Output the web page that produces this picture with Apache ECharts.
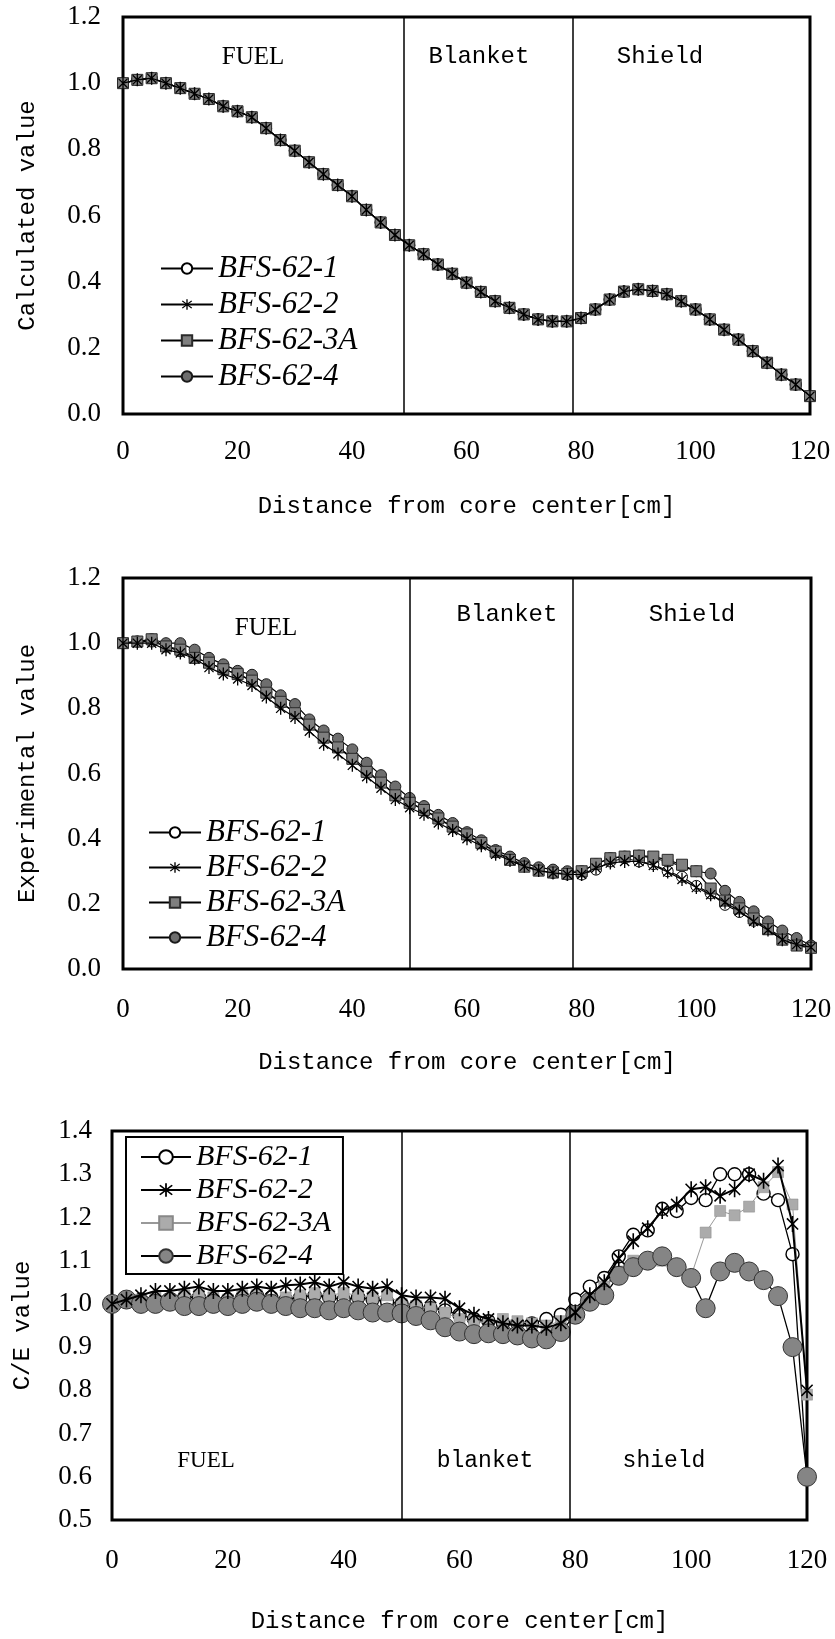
<!DOCTYPE html>
<html>
<head>
<meta charset="utf-8">
<title>BFS-62 radial distributions</title>
<script src="https://cdn.jsdelivr.net/npm/echarts@6/dist/echarts.min.js"></script>
<style>
  html, body { margin: 0; padding: 0; background: #fff; }
  #page { position: relative; width: 835px; height: 1639px; }
  .panel { position: absolute; left: 0; width: 835px; }
</style>
</head>
<body>
<div id="page">
  <div id="calc" class="panel" style="top:0;height:540px"></div>
  <div id="expt" class="panel" style="top:540px;height:560px"></div>
  <div id="ce" class="panel" style="top:1100px;height:539px"></div>
</div>
<script>
// measurement positions [cm]
const distance = [0, 2.5, 5, 7.5, 10, 12.5, 15, 17.5, 20, 22.5, 25, 27.5, 30, 32.5, 35, 37.5,
  40, 42.5, 45, 47.5, 50, 52.5, 55, 57.5, 60, 62.5, 65, 67.5, 70, 72.5, 75, 77.5,
  80, 82.5, 85, 87.5, 90, 92.5, 95, 97.5, 100, 102.5, 105, 107.5, 110, 112.5, 115, 117.5, 120];

const seriesNames = ['BFS-62-1', 'BFS-62-2', 'BFS-62-3A', 'BFS-62-4'];

// calculated values: the four cores lie on top of each other
const calcValue = [1.0, 1.01, 1.015, 1.0, 0.985, 0.968, 0.952, 0.93, 0.915, 0.897, 0.864, 0.828,
  0.796, 0.761, 0.725, 0.692, 0.658, 0.617, 0.579, 0.541, 0.51, 0.483, 0.452, 0.424, 0.397,
  0.369, 0.341, 0.321, 0.301, 0.286, 0.28, 0.28, 0.29, 0.316, 0.346, 0.37, 0.377, 0.372,
  0.362, 0.341, 0.316, 0.286, 0.255, 0.225, 0.19, 0.155, 0.119, 0.089, 0.054];

// experimental values
const exp1 = [1.0, 1.005, 1.005, 0.99, 0.975, 0.955, 0.94, 0.92, 0.905, 0.885, 0.85, 0.815,
  0.79, 0.75, 0.715, 0.68, 0.65, 0.61, 0.572, 0.537, 0.51, 0.49, 0.462, 0.435, 0.41, 0.385,
  0.358, 0.338, 0.318, 0.303, 0.295, 0.29, 0.29, 0.305, 0.33, 0.34, 0.33, 0.322, 0.3, 0.283,
  0.255, 0.232, 0.197, 0.175, 0.148, 0.124, 0.097, 0.08, 0.07];
const exp2 = [1.0, 1.0, 1.0, 0.98, 0.97, 0.952, 0.925, 0.905, 0.89, 0.87, 0.835, 0.8, 0.772,
  0.73, 0.69, 0.66, 0.625, 0.59, 0.555, 0.52, 0.495, 0.475, 0.448, 0.425, 0.4, 0.378, 0.352,
  0.333, 0.315, 0.302, 0.295, 0.29, 0.29, 0.31, 0.325, 0.33, 0.33, 0.318, 0.298, 0.275, 0.25,
  0.228, 0.205, 0.178, 0.146, 0.12, 0.09, 0.075, 0.067];
const exp3A = [1.0, 1.005, 1.012, 0.99, 0.98, 0.955, 0.94, 0.92, 0.905, 0.885, 0.848, 0.82,
  0.785, 0.75, 0.71, 0.68, 0.645, 0.605, 0.572, 0.533, 0.51, 0.488, 0.462, 0.437, 0.413,
  0.387, 0.36, 0.335, 0.314, 0.302, 0.296, 0.292, 0.3, 0.323, 0.34, 0.345, 0.348, 0.345,
  0.335, 0.32, 0.3, 0.247, 0.21, 0.186, 0.155, 0.122, 0.09, 0.072, 0.065];
const exp4 = [1.0, 1.005, 1.012, 1.0, 1.0, 0.98, 0.955, 0.935, 0.915, 0.903, 0.874, 0.84,
  0.813, 0.766, 0.732, 0.707, 0.674, 0.633, 0.595, 0.56, 0.525, 0.5, 0.473, 0.448, 0.42,
  0.395, 0.365, 0.345, 0.325, 0.312, 0.305, 0.3, 0.3, 0.322, 0.34, 0.345, 0.348, 0.34, 0.33,
  0.315, 0.3, 0.293, 0.24, 0.206, 0.177, 0.146, 0.118, 0.095, 0.072];

// C/E values
const ce1 = [1.0, 1.005, 1.01, 1.01, 1.01, 1.015, 1.015, 1.01, 1.01, 1.015, 1.02, 1.015, 1.01,
  1.015, 1.02, 1.015, 1.01, 1.015, 1.01, 1.005, 1.0, 0.995, 0.99, 0.985, 0.975, 0.965, 0.96,
  0.955, 0.955, 0.955, 0.965, 0.975, 1.01, 1.04, 1.06, 1.11, 1.16, 1.17, 1.22, 1.215, 1.245,
  1.24, 1.3, 1.3, 1.3, 1.255, 1.24, 1.115, 0.6];
const ce2 = [1.0, 1.01, 1.02, 1.03, 1.03, 1.035, 1.04, 1.03, 1.03, 1.035, 1.04, 1.035, 1.043,
  1.045, 1.05, 1.04, 1.05, 1.04, 1.035, 1.04, 1.02, 1.015, 1.015, 1.012, 0.99, 0.975, 0.965,
  0.955, 0.95, 0.95, 0.945, 0.955, 0.98, 1.02, 1.05, 1.105, 1.145, 1.175, 1.215, 1.23, 1.265,
  1.27, 1.25, 1.265, 1.3, 1.285, 1.32, 1.185, 0.8];
const ce3A = [1.0, 1.005, 1.01, 1.015, 1.01, 1.02, 1.02, 1.015, 1.01, 1.02, 1.02, 1.01, 1.015,
  1.02, 1.025, 1.02, 1.025, 1.02, 1.015, 1.02, 1.0, 0.995, 0.99, 0.98, 0.965, 0.96, 0.955,
  0.965, 0.96, 0.955, 0.95, 0.96, 0.975, 1.0, 1.04, 1.075, 1.1, 1.105, 1.1, 1.085, 1.065,
  1.165, 1.215, 1.205, 1.225, 1.27, 1.305, 1.23, 0.79];
const ce4 = [1.0, 1.01, 1.0, 1.0, 1.005, 0.995, 0.995, 1.0, 0.995, 1.0, 1.005, 1.0, 0.995,
  0.99, 0.99, 0.985, 0.99, 0.985, 0.98, 0.98, 0.978, 0.972, 0.962, 0.946, 0.936, 0.93, 0.932,
  0.93, 0.927, 0.92, 0.918, 0.935, 0.975, 1.005, 1.02, 1.065, 1.085, 1.1, 1.11, 1.085, 1.06,
  0.99, 1.075, 1.095, 1.075, 1.055, 1.018, 0.9, 0.6];

// zone boundaries [cm] in each panel
const calcZones = [49, 78.5];
const exptZones = [50, 78.5];
const ceZones = [50, 79];

const MONO = '"Liberation Mono", "DejaVu Sans Mono", monospace';
const SERIF = '"Liberation Serif", "DejaVu Serif", serif';
// six-armed asterisk marker
const STAR = 'path://M2.3,3.7L16.3,17.7L17.7,16.3L3.7,2.3Z' +
  'M16.3,2.3L2.3,16.3L3.7,17.7L17.7,3.7ZM9,0L9,20L11,20L11,0Z';

function pairs(ys) {
  return distance.map((x, i) => [x, ys[i]]);
}

function lineSeries(name, values, look) {
  return {
    name: name,
    type: 'line',
    data: pairs(values),
    symbol: look.symbol,
    symbolSize: look.size,
    symbolKeepAspect: true,
    showAllSymbol: true,
    z: look.z,
    itemStyle: { color: look.fill, borderColor: look.stroke, borderWidth: look.strokeWidth, opacity: 1 },
    lineStyle: { color: look.line, width: look.lineWidth },
    emphasis: { disabled: true }
  };
}

function zoneText(x, y, text, font) {
  return {
    type: 'text', x: x, y: y, silent: true,
    style: { text: text, font: font, fill: '#000', align: 'center', verticalAlign: 'middle',
      textAlign: 'center', textVerticalAlign: 'middle' }
  };
}

function makeOption(cfg) {
  const series = cfg.values.map((vals, i) => lineSeries(seriesNames[i], vals, cfg.looks[i]));
  series[0].markLine = {
    silent: true, symbol: 'none', animation: false,
    label: { show: false },
    lineStyle: { color: '#000', width: 1.5, type: 'solid' },
    data: cfg.zones.map(v => ({ xAxis: v }))
  };
  return {
    animation: false,
    backgroundColor: '#fff',
    grid: Object.assign({ show: true, borderColor: '#000', borderWidth: 3, backgroundColor: 'transparent' }, cfg.grid),
    xAxis: {
      type: 'value', min: 0, max: 120, interval: 20,
      name: 'Distance from core center[cm]', nameLocation: 'middle', nameGap: cfg.xNameGap,
      nameTextStyle: { fontFamily: MONO, fontSize: 24, color: '#000' },
      axisLine: { show: false }, axisTick: { show: false }, splitLine: { show: false },
      axisLabel: { fontFamily: SERIF, fontSize: 27, color: '#000', margin: cfg.xLabelMargin }
    },
    yAxis: {
      type: 'value', min: cfg.yMin, max: cfg.yMax, interval: cfg.yStep,
      name: cfg.yName, nameLocation: 'middle', nameGap: cfg.yNameGap,
      nameTextStyle: { fontFamily: MONO, fontSize: 24, color: '#000' },
      axisLine: { show: false }, axisTick: { show: false }, splitLine: { show: false },
      axisLabel: { fontFamily: SERIF, fontSize: 27, color: '#000', margin: cfg.yLabelMargin,
        formatter: v => v.toFixed(1) }
    },
    legend: Object.assign({
      data: seriesNames, orient: 'vertical', selectedMode: false,
      textStyle: { fontFamily: SERIF, fontStyle: 'italic', fontSize: cfg.legendFont, color: '#000', lineHeight: 30 }
    }, cfg.legend),
    graphic: cfg.labels,
    series: series
  };
}

const smallLooks = [
  { symbol: 'circle', size: 11, fill: '#fff', stroke: '#000', strokeWidth: 1, line: '#000', lineWidth: 1.2, z: 2 },
  { symbol: STAR, size: 13, fill: '#000', stroke: '#000', strokeWidth: 0, line: '#000', lineWidth: 1.2, z: 4 },
  { symbol: 'rect', size: 11, fill: '#7f7f7f', stroke: '#2a2a2a', strokeWidth: 1, line: '#000', lineWidth: 1.2, z: 3 },
  { symbol: 'circle', size: 11, fill: '#6e6e6e', stroke: '#1a1a1a', strokeWidth: 1, line: '#000', lineWidth: 1.2, z: 2 }
];

// big grey circles sit in front of the open circles in the C/E panel
const ceLooks = [
  { symbol: 'circle', size: 13, fill: '#fff', stroke: '#000', strokeWidth: 1.4, line: '#000', lineWidth: 1.3, z: 2 },
  { symbol: STAR, size: 16, fill: '#000', stroke: '#000', strokeWidth: 0, line: '#000', lineWidth: 2, z: 4 },
  { symbol: 'rect', size: 11, fill: '#ababab', stroke: '#888', strokeWidth: 0.5, line: '#999', lineWidth: 1, z: 3 },
  { symbol: 'circle', size: 19, fill: '#858585', stroke: '#333', strokeWidth: 1, line: '#000', lineWidth: 1.3, z: 3 }
];

const calcChart = echarts.init(document.getElementById('calc'), null, { renderer: 'canvas' });
calcChart.setOption(makeOption({
  grid: { left: 123, top: 17, width: 687, height: 397 },
  yMin: 0, yMax: 1.2, yStep: 0.2, yName: 'Calculated value', yNameGap: 83,
  xNameGap: 81, xLabelMargin: 24, yLabelMargin: 22,
  values: [calcValue, calcValue, calcValue, calcValue],
  looks: smallLooks,
  zones: calcZones,
  legendFont: 31,
  legend: { left: 160, top: 253, padding: 0, itemWidth: 52, itemHeight: 13, itemGap: 5 },
  labels: [
    zoneText(253, 57, 'FUEL', '25px ' + SERIF),
    zoneText(479, 57, 'Blanket', '24px ' + MONO),
    zoneText(660, 57, 'Shield', '24px ' + MONO)
  ]
}));

const exptChart = echarts.init(document.getElementById('expt'), null, { renderer: 'canvas' });
exptChart.setOption(makeOption({
  grid: { left: 123, top: 38, width: 688, height: 391 },
  yMin: 0, yMax: 1.2, yStep: 0.2, yName: 'Experimental value', yNameGap: 83,
  xNameGap: 82, xLabelMargin: 27, yLabelMargin: 22,
  values: [exp1, exp2, exp3A, exp4],
  looks: smallLooks,
  zones: exptZones,
  legendFont: 31,
  legend: { left: 148, top: 277, padding: 0, itemWidth: 52, itemHeight: 13, itemGap: 4 },
  labels: [
    zoneText(266, 88, 'FUEL', '25px ' + SERIF),
    zoneText(507, 75, 'Blanket', '24px ' + MONO),
    zoneText(692, 75, 'Shield', '24px ' + MONO)
  ]
}));

const ceChart = echarts.init(document.getElementById('ce'), null, { renderer: 'canvas' });
ceChart.setOption(makeOption({
  grid: { left: 112, top: 31, width: 695, height: 392 },
  yMin: 0.5, yMax: 1.4, yStep: 0.1, yName: 'C/E value', yNameGap: 77,
  xNameGap: 90, xLabelMargin: 27, yLabelMargin: 20,
  values: [ce1, ce2, ce3A, ce4],
  looks: ceLooks,
  zones: ceZones,
  legendFont: 30,
  legend: { left: 126, top: 37, padding: [5, 12, 3, 14], borderColor: '#000', borderWidth: 2,
    backgroundColor: '#fff', itemWidth: 50, itemHeight: 17, itemGap: 3 },
  labels: [
    zoneText(206, 361, 'FUEL', '23px ' + SERIF),
    zoneText(485, 361, 'blanket', '23px ' + MONO),
    zoneText(664, 361, 'shield', '23px ' + MONO)
  ]
}));
</script>
</body>
</html>
